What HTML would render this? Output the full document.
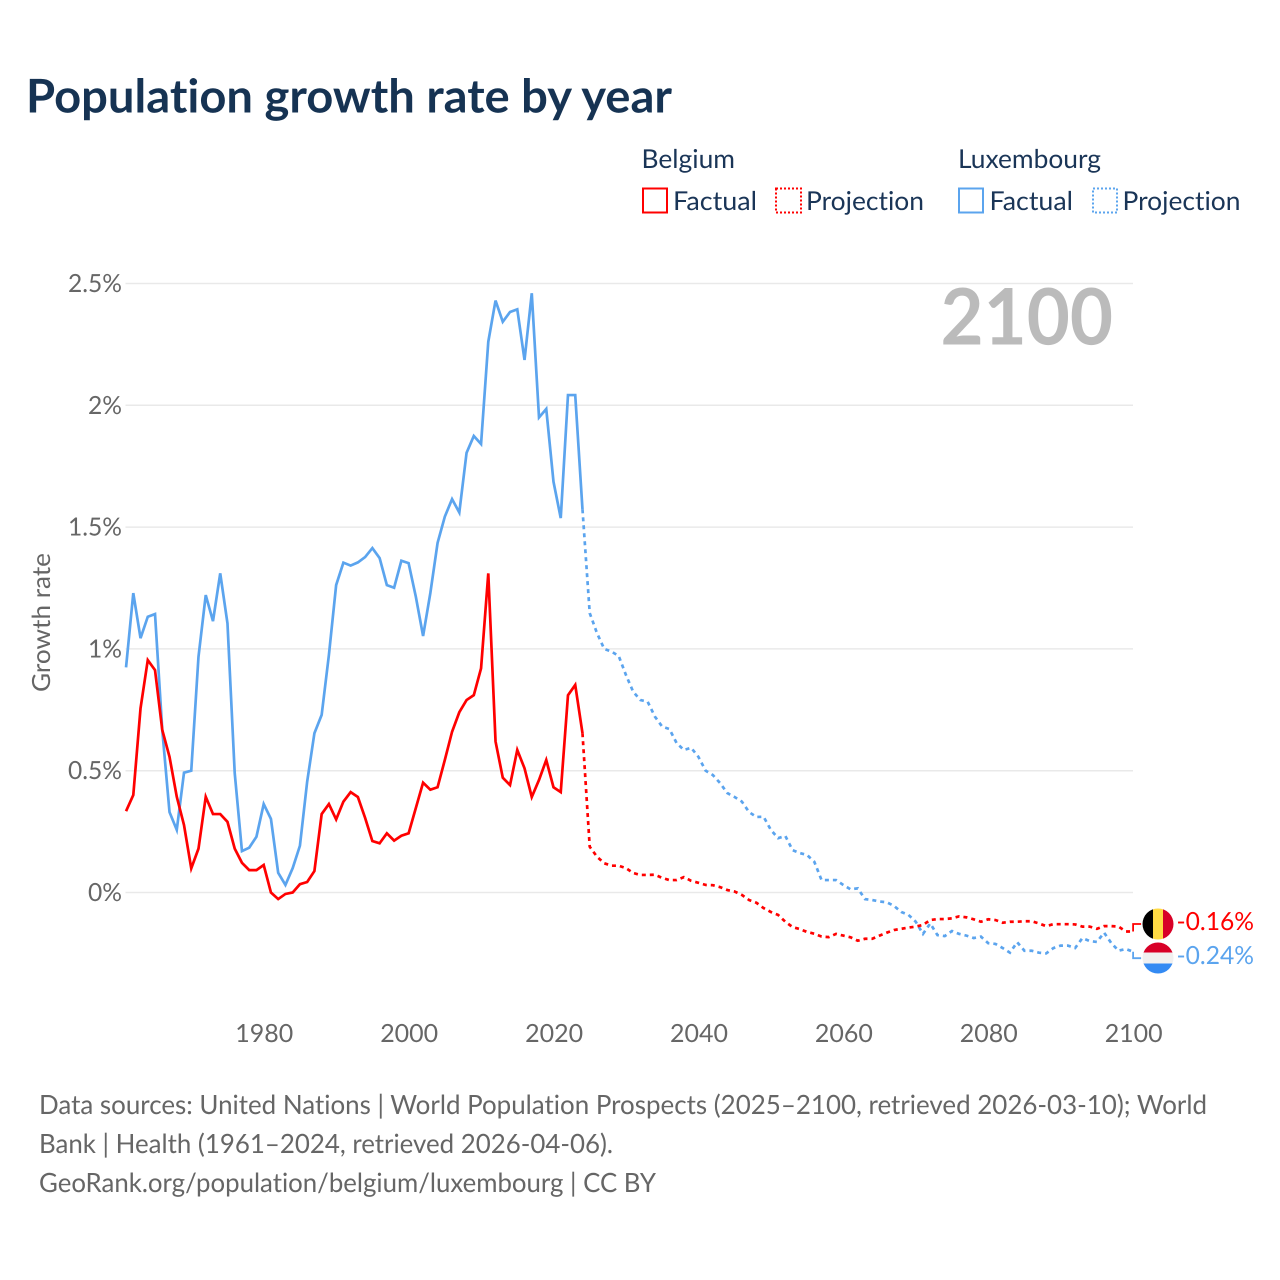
<!DOCTYPE html>
<html lang="en">
<head>
<meta charset="utf-8">
<title>Population growth rate by year</title>
<style>
html,body{margin:0;padding:0;background:#fff;width:1280px;height:1280px;overflow:hidden}
svg{display:block}
text{font-family:"Lato","Carlito","Liberation Sans",sans-serif;text-rendering:geometricPrecision;font-variant-ligatures:none;font-feature-settings:"liga" 0,"clig" 0}
</style>
</head>
<body>
<svg id="chart" xmlns="http://www.w3.org/2000/svg" width="1280" height="1280" viewBox="0 0 1280 1280">
  <rect x="0" y="0" width="1280" height="1280" fill="#ffffff"/>
  <text x="26" y="112.500" font-size="46.500" font-weight="700" fill="#163353" textLength="646" lengthAdjust="spacingAndGlyphs">Population growth rate by year</text>

  <g font-size="26" fill="#1a3557">
    <text x="641.500" y="168" textLength="93.500" lengthAdjust="spacingAndGlyphs">Belgium</text>
    <text x="958" y="168" textLength="143" lengthAdjust="spacingAndGlyphs">Luxembourg</text>
    <g>
      <rect x="643" y="188.500" width="24" height="24" fill="none" stroke="#ff0000" stroke-width="2"/>
      <text x="673" y="210" textLength="84" lengthAdjust="spacingAndGlyphs">Factual</text>
    </g>
    <g>
      <rect x="776" y="188.500" width="25" height="24" fill="none" stroke="#ff0000" stroke-width="2" stroke-dasharray="2 2"/>
      <text x="806" y="210" textLength="118" lengthAdjust="spacingAndGlyphs">Projection</text>
    </g>
    <g>
      <rect x="959" y="188.500" width="24" height="24" fill="none" stroke="#5ba4ee" stroke-width="2"/>
      <text x="989.500" y="210" textLength="83.500" lengthAdjust="spacingAndGlyphs">Factual</text>
    </g>
    <g>
      <rect x="1093" y="188.500" width="24" height="24" fill="none" stroke="#5ba4ee" stroke-width="2" stroke-dasharray="2 2"/>
      <text x="1122.500" y="210" textLength="118" lengthAdjust="spacingAndGlyphs">Projection</text>
    </g>
  </g>

  <g id="grid"></g>
  <g id="yticks"></g>
  <g id="xticks"></g>
  <text x="0" y="0" transform="translate(50,692) rotate(-90)" font-size="25" fill="#666666" textLength="139" lengthAdjust="spacingAndGlyphs">Growth rate</text>
  <text x="940.500" y="344.500" font-size="78" font-weight="700" fill="#bbbbbb" textLength="172.500" lengthAdjust="spacingAndGlyphs">2100</text>

  <g id="series"></g>

  <g>
    <clipPath id="clipBe"><circle cx="1158" cy="924" r="15.500"/></clipPath>
    <g clip-path="url(#clipBe)">
      <rect x="1142" y="907" width="11" height="34" fill="#000000"/>
      <rect x="1153" y="907" width="10" height="34" fill="#ffda44"/>
      <rect x="1163" y="907" width="11" height="34" fill="#d80027"/>
    </g>
  </g>
  <g>
    <clipPath id="clipLu"><circle cx="1158" cy="958" r="15.500"/></clipPath>
    <g clip-path="url(#clipLu)">
      <rect x="1142" y="942" width="32" height="10.500" fill="#d80027"/>
      <rect x="1142" y="952.500" width="32" height="11" fill="#f0f0f0"/>
      <rect x="1142" y="963.500" width="32" height="11" fill="#338af3"/>
    </g>
  </g>
  <text x="1176.500" y="930" font-size="25" fill="#ff0000" textLength="77.500" lengthAdjust="spacingAndGlyphs">-0.16%</text>
  <text x="1176.500" y="964" font-size="25" fill="#5ba4ee" textLength="77.500" lengthAdjust="spacingAndGlyphs">-0.24%</text>

  <g font-size="26.500" fill="#666666">
    <text x="39" y="1114" textLength="1168" lengthAdjust="spacingAndGlyphs">Data sources: United Nations | World Population Prospects (2025–2100, retrieved 2026-03-10); World</text>
    <text x="39" y="1153" textLength="574" lengthAdjust="spacingAndGlyphs">Bank | Health (1961–2024, retrieved 2026-04-06).</text>
    <text x="39" y="1192" textLength="617" lengthAdjust="spacingAndGlyphs">GeoRank.org/population/belgium/luxembourg | CC BY</text>
  </g>
</svg>
<script>
const factualFirstYear = 1961;
const projectionFirstYear = 2024;
const yTickValues = [0, 0.5, 1, 1.5, 2, 2.5];
const yTickLabels = ["0%", "0.5%", "1%", "1.5%", "2%", "2.5%"];
const xTickValues = [1980, 2000, 2020, 2040, 2060, 2080, 2100];
const xTickLabels = ["1980", "2000", "2020", "2040", "2060", "2080", "2100"];

const belgiumFactual = [
  0.334,0.40,0.756,0.954,0.913,0.667,0.557,0.393,0.277,0.099,
  0.18,0.393,0.322,0.322,0.29,0.18,0.122,0.092,0.092,0.113,
  0,-0.027,-0.006,0,0.034,0.043,0.088,0.322,0.363,0.30,
  0.373,0.412,0.392,0.306,0.211,0.202,0.243,0.213,0.233,0.243,
  0.347,0.451,0.422,0.432,0.544,0.66,0.74,0.79,0.81,0.92,
  1.31,0.62,0.471,0.441,0.585,0.51,0.392,0.462,0.544,0.432,
  0.412,0.81,0.852,0.654
];
const luxembourgFactual = [
  0.924,1.229,1.044,1.132,1.143,0.667,0.33,0.257,0.492,0.50,
  0.968,1.221,1.114,1.31,1.105,0.49,0.17,0.184,0.229,0.363,
  0.302,0.081,0.031,0.10,0.192,0.455,0.654,0.729,0.975,1.262,
  1.354,1.342,1.355,1.377,1.414,1.373,1.262,1.251,1.362,1.352,
  1.214,1.053,1.229,1.435,1.543,1.615,1.56,1.805,1.874,1.841,
  2.261,2.43,2.343,2.383,2.394,2.186,2.46,1.95,1.985,1.686,
  1.537,2.042,2.042,1.573
];
const belgiumProjection = [
  0.654,0.188,0.147,0.12,0.11,0.11,0.10,0.08,0.072,0.072,
  0.073,0.06,0.051,0.051,0.063,0.048,0.04,0.031,0.03,0.022,
  0.01,0.004,-0.01,-0.031,-0.042,-0.064,-0.08,-0.092,-0.12,-0.142,
  -0.15,-0.162,-0.169,-0.181,-0.183,-0.17,-0.177,-0.184,-0.198,-0.19,
  -0.19,-0.177,-0.165,-0.154,-0.149,-0.144,-0.14,-0.133,-0.113,-0.109,
  -0.109,-0.106,-0.098,-0.102,-0.11,-0.12,-0.11,-0.113,-0.124,-0.12,
  -0.12,-0.118,-0.118,-0.127,-0.138,-0.13,-0.13,-0.13,-0.131,-0.14,
  -0.14,-0.149,-0.138,-0.138,-0.14,-0.16,-0.16
];
const luxembourgProjection = [
  1.573,1.147,1.065,1.0,0.989,0.971,0.893,0.824,0.79,0.783,
  0.722,0.681,0.671,0.613,0.585,0.594,0.557,0.50,0.482,0.449,
  0.408,0.392,0.373,0.33,0.31,0.311,0.257,0.223,0.232,0.174,
  0.162,0.154,0.126,0.051,0.051,0.051,0.031,0.013,0.017,-0.027,
  -0.031,-0.037,-0.04,-0.055,-0.08,-0.092,-0.12,-0.17,-0.127,-0.175,
  -0.179,-0.158,-0.17,-0.177,-0.187,-0.181,-0.208,-0.211,-0.228,-0.247,
  -0.204,-0.239,-0.239,-0.247,-0.25,-0.228,-0.218,-0.218,-0.228,-0.187,
  -0.199,-0.203,-0.165,-0.208,-0.239,-0.232,-0.243
];

const NS = "http://www.w3.org/2000/svg";
const plotLeft = 125.5;
const plotRight = 1133;
function xScale(year) { return 1133.1 - (2100 - year) * 7.245; }
function yScale(value) { return 892.5 - value * 243.6; }
function labelWidth(label) {
  let w = 0;
  for (const c of label) { w += c === "%" ? 19.5 : c === "." ? 5.5 : 14.5; }
  return w;
}
function makeText(x, y, label, anchorEnd) {
  const t = document.createElementNS(NS, "text");
  const w = labelWidth(label);
  t.setAttribute("x", (anchorEnd ? x - w : x - w / 2).toFixed(1));
  t.setAttribute("y", y.toFixed(1));
  t.setAttribute("font-size", "25");
  t.setAttribute("fill", "#666666");
  t.setAttribute("textLength", w.toFixed(1));
  t.setAttribute("lengthAdjust", "spacingAndGlyphs");
  t.textContent = label;
  return t;
}
function linePath(firstYear, values) {
  return values.map(function (v, i) {
    return (i ? "L" : "M") + xScale(firstYear + i).toFixed(2) + " " + yScale(v).toFixed(2);
  }).join(" ");
}
function addLine(values, firstYear, color, dash) {
  const p = document.createElementNS(NS, "path");
  p.setAttribute("d", linePath(firstYear, values));
  p.setAttribute("fill", "none");
  p.setAttribute("stroke", color);
  p.setAttribute("stroke-width", "2.7");
  p.setAttribute("stroke-linejoin", "miter");
  if (dash) { p.setAttribute("stroke-dasharray", dash); }
  document.getElementById("series").appendChild(p);
  return p;
}
function addConnector(lastValue, offset, color) {
  const p = document.createElementNS(NS, "path");
  const x = xScale(2100);
  const y = yScale(lastValue);
  p.setAttribute("d", "M" + x + " " + y + " V" + (y + offset) + " H" + (x + 8));
  p.setAttribute("fill", "none");
  p.setAttribute("stroke", color);
  p.setAttribute("stroke-width", "1.8");
  document.getElementById("series").appendChild(p);
  return p;
}

yTickValues.forEach(function (v, i) {
  const y = yScale(v);
  const g = document.createElementNS(NS, "line");
  
  
  g.setAttribute("x1", plotLeft);
  g.setAttribute("x2", plotRight);
  g.setAttribute("y1", y);
  g.setAttribute("y2", y);
  g.setAttribute("stroke", "#e9e9e9");
  g.setAttribute("stroke-width", "1.5");
  document.getElementById("grid").appendChild(g);
  const t = makeText(122, y + 8.5, yTickLabels[i], true);
  
  
  document.getElementById("yticks").appendChild(t);
});
xTickValues.forEach(function (v, i) {
  const t = makeText(xScale(v) + 0.6, 1042, xTickLabels[i], false);
  
  
  document.getElementById("xticks").appendChild(t);
});

const blue = "#5ba4ee";
const red = "#ff0000";
const lineLuxProj = addLine(luxembourgProjection, projectionFirstYear, blue, "4 4");


const lineLuxFact = addLine(luxembourgFactual, factualFirstYear, blue, null);


const lineBeProj = addLine(belgiumProjection, projectionFirstYear, red, "4 4");


const lineBeFact = addLine(belgiumFactual, factualFirstYear, red, null);


const connBe = addConnector(belgiumProjection[belgiumProjection.length - 1], -7.5, red);


const connLu = addConnector(luxembourgProjection[luxembourgProjection.length - 1], 6.5, blue);


</script>
</body>
</html>
